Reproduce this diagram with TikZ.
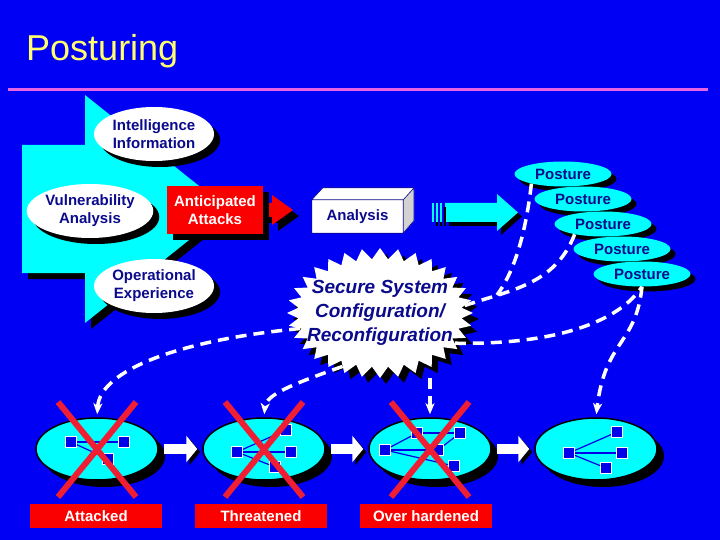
\documentclass[tikz,border=0pt]{standalone}
\usepackage{fontspec}
\setmainfont{Liberation Sans}
\usepackage{xcolor}
\usepackage{tikz}
\usetikzlibrary{arrows.meta, positioning, shapes.geometric, shapes.symbols, shadows, calc}

\definecolor{bgblue}{RGB}{0,0,245}
\definecolor{aqua}{RGB}{0,255,255}
\definecolor{titleyellow}{RGB}{255,255,110}
\definecolor{rulepink}{RGB}{228,100,228}
\definecolor{navytext}{RGB}{10,10,140}
\definecolor{xred}{RGB}{240,30,50}
\definecolor{boxred}{RGB}{250,0,0}
\definecolor{netblue}{RGB}{0,0,235}

\begin{document}
\begin{tikzpicture}[
    x=1pt, y=-1pt,
    every node/.style={font=\bfseries\fontsize{15}{18}\selectfont, align=center, inner sep=0pt},
    shadowed/.style={drop shadow={shadow xshift=#1, shadow yshift=-#1, opacity=1, fill=black}},
    shadowed/.default=6pt,
    source/.style={ellipse, fill=white, minimum width=120pt, minimum height=54pt, text=navytext, shadowed},
    hotbox/.style={rectangle, fill=boxred, text=white, minimum width=96pt, minimum height=48pt, shadowed},
    posture/.style={ellipse, fill=aqua, minimum width=97pt, minimum height=25pt, text=navytext, shadowed=5pt},
    burst/.style={starburst, starburst points=32, starburst point height=11pt, random starburst=0, fill=white, text=navytext, inner xsep=-24pt, inner ysep=-4pt, minimum width=186pt, minimum height=130pt, font=\bfseries\itshape\fontsize{19}{24}\selectfont, shadowed},
    system/.style={ellipse, fill=aqua, draw=black, line width=1.5pt, minimum width=122pt, minimum height=62pt, shadowed=7pt},
    tag/.style={rectangle, fill=boxred, text=white, minimum width=132pt, minimum height=24pt},
    sq/.style={rectangle, fill=netblue, draw=white, line width=0.8pt, minimum size=11pt},
    wire/.style={netblue, line width=1.2pt},
    strike/.style={xred, line width=6pt},
    link/.style={white, line width=3.5pt, dash pattern=on 11pt off 7pt},
    hop/.style={link, -{Stealth[length=11pt, width=9pt, inset=3pt]}},
    flow/.style={white, line width=10pt, -{Triangle[length=11pt, width=26pt]}, shorten <=5pt, shorten >=5pt, preaction={draw=black, transform canvas={xshift=3pt, yshift=-3pt}}}
]

    % Page
    \fill[bgblue] (0,0) rectangle (720,540);
    \useasboundingbox (0,0) rectangle (720,540);
    \node[font=\fontsize{36}{40}\selectfont, text=titleyellow, anchor=base west] (title) at (26,61) {Posturing};
    \draw[rulepink, line width=3pt] (8,90) -- (708,90);

    % Sources
    \fill[aqua, shadowed] (22,145) -- (85,145) -- (85,95) -- (228,209) -- (85,323) -- (85,273) -- (22,273) -- cycle;
    \node[source] (intel) at (154,134) {Intelligence\\Information};
    \node[source] (vuln) at (90,211) {Vulnerability\\Analysis};
    \node[source] (oper) at (154,286) {Operational\\Experience};

    \fill[boxred, shadowed] (263,203) -- (272,203) -- (272,195) -- (293,210) -- (272,225) -- (272,217) -- (263,217) -- cycle;
    \node[hotbox] (antic) at (215,210) {Anticipated\\Attacks};

    % Analysis box
    \node[fill=white, minimum width=91pt, minimum height=33pt, text=navytext] (study) at (357.5,216.5) {Analysis};
    \fill[white] (study.north west) -- ++(11,-12) -- ++(91,0) -- (study.north east) -- cycle;
    \fill[gray!35] (study.north east) -- ++(11,-12) -- ++(0,33) -- (study.south east) -- cycle;
    \draw[navytext, line width=0.6pt, line join=round] (study.north west) -- ++(11,-12) -- ++(91,0) -- ++(0,33) -- (study.south east) -- (study.south west) -- (study.north west) -- (study.north east) -- ++(11,-12) (study.north east) -- (study.south east);

    \fill[aqua, shadowed=4pt] (445,203) -- (497,203) -- (497,194) -- (518,212.5) -- (497,231) -- (497,222) -- (445,222) -- cycle;
    \foreach \x in {432,436,440}
        \fill[aqua, shadowed=4pt] (\x,203) rectangle ++(2.2,19);

    % Postures
    \node[posture] (p1) at (563,174) {Posture};
    \node[posture] (p2) at (583,199) {Posture};
    \node[posture] (p3) at (603,224) {Posture};
    \node[posture] (p4) at (622,249) {Posture};
    \node[posture] (p5) at (642,274) {Posture};

    % Configuration
    \node[burst] (burst) at (380,313) {Secure System\\Configuration/\\Reconfiguration};
    \coordinate (merge) at (497,295);

    % Systems
    \node[system] (attacked) at (97,449) {};
    \node[system] (threatened) at (264,449) {};
    \node[system] (hardened) at (430,449) {};
    \node[system] (secure) at (596,449) {};

    \node[sq] (a1) at (71,442) {};
    \node[sq] (a2) at (124,442) {};
    \node[sq] (a3) at (108,459) {};
    \draw[wire] (a1) -- (a2);
    \draw[wire] (a1) -- (a3);

    \node[sq] (t1) at (237,452) {};
    \node[sq] (t2) at (291,452) {};
    \node[sq] (t3) at (286,430) {};
    \node[sq] (t4) at (275,467) {};
    \foreach \n in {t2,t3,t4}
        \draw[wire] (t1) -- (\n);

    \node[sq] (h1) at (385,450) {};
    \node[sq] (h2) at (417,433) {};
    \node[sq] (h3) at (460,433) {};
    \node[sq] (h4) at (438,450) {};
    \node[sq] (h5) at (454,466) {};
    \foreach \n in {h2,h4,h5}
        \draw[wire] (h1) -- (\n);
    \draw[wire] (h2) -- (h3);
    \draw[wire] (h4) -- (h3);

    \node[sq] (s1) at (569,453) {};
    \node[sq] (s2) at (617,432) {};
    \node[sq] (s3) at (622,453) {};
    \node[sq] (s4) at (606,468) {};
    \foreach \n in {s2,s3,s4}
        \draw[wire] (s1) -- (\n);

    \foreach \n in {attacked,threatened,hardened} {
        \draw[strike] ($(\n)+(-39,-47)$) -- ($(\n)+(39,48)$);
        \draw[strike] ($(\n)+(39,-47)$) -- ($(\n)+(-39,48)$);
    }

    \draw[flow] (attacked) -- (threatened);
    \draw[flow] (threatened) -- (hardened);
    \draw[flow] (hardened) -- (secure);

    \node[tag] (tagA) at (96,516) {Attacked};
    \node[tag] (tagT) at (261,516) {Threatened};
    \node[tag] (tagO) at (426,516) {Over hardened};

    % Feedback
    \draw[link] (p1.197) .. controls (525,240) and (512,275) .. (merge);
    \draw[link] (p3.200) .. controls (555,285) and (510,290) .. (burst.5);
    \draw[link] (burst.-22) .. controls (560,345) and (620,320) .. (p5.south);
    \draw[hop, shorten >=3pt] (p5.south) .. controls (636,345) and (605,340) .. (secure.north);
    \draw[hop, shorten >=3pt] (burst.191) .. controls (180,340) and (100,370) .. (attacked.north);
    \draw[hop, shorten >=3pt] (burst.235) .. controls (290,385) and (266,395) .. (threatened.north);
    \draw[hop, shorten >=3pt] (hardened.north |- burst.south) -- (hardened.north);

\end{tikzpicture}
\end{document}
